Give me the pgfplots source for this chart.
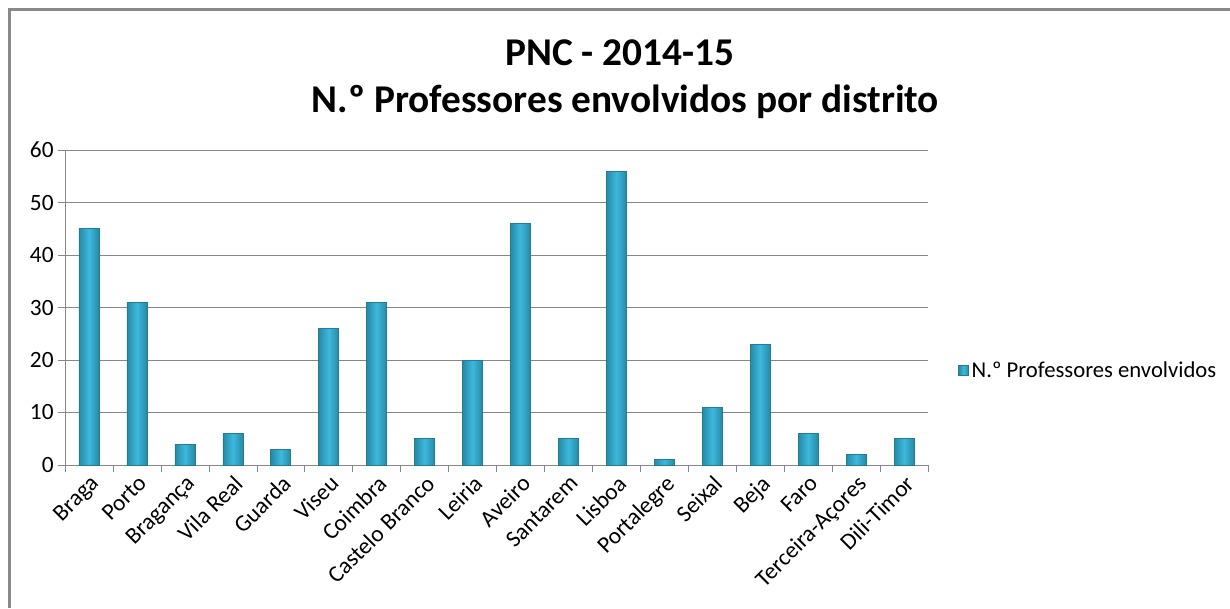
\documentclass[border=0pt]{standalone}
\usepackage{fontspec}
\setmainfont{Carlito}
\usepackage{pgfplots}
\pgfplotsset{compat=1.18}
\definecolor{barmid}{HTML}{3CB9DD}
\definecolor{baredge}{HTML}{2889A5}
\definecolor{gridc}{HTML}{878787}
\definecolor{framec}{HTML}{898989}
\tikzset{
  prism/.style={draw=baredge!90!black, thin, left color=baredge,
                right color=baredge, middle color=barmid},
}

\begin{document}
\begin{tikzpicture}
  % page is 1230x608 px at 0.75pt per px
  \useasboundingbox (0,0) rectangle (922.5pt,456pt);
  \draw[framec,line width=2.25pt] (6.75pt,0) -- (6.75pt,448.5pt) -- (922.5pt,448.5pt);

  \node[anchor=base,font=\fontsize{29.5}{34}\selectfont\bfseries] at (465pt,406.5pt) {PNC - 2014-15};
  \node[anchor=base,font=\fontsize{29.5}{34}\selectfont\bfseries] at (469pt,371.25pt) {N.º Professores envolvidos por distrito};

  \begin{axis}[
      at={(48.75pt,107.25pt)}, anchor=south west,
      scale only axis,
      width=647.25pt, height=236.25pt,
      ybar, bar width=15pt, bar shift=0pt,
      xmin=-0.5, xmax=17.5,
      ymin=0, ymax=60,
      ytick={0,10,...,60},
      xtick={0,...,17},
      xticklabels={Braga,Porto,Bragança,Vila Real,Guarda,Viseu,Coimbra,Castelo Branco,Leiria,Aveiro,Santarem,Lisboa,Portalegre,Seixal,Beja,Faro,Terceira-Açores,Dili-Timor},
      minor xtick={-0.5,0.5,...,17.5},
      major x tick style={draw=none},
      minor x tick style={gridc, thin},
      minor tick length=5.5pt,
      y tick style={gridc, thin},
      major tick length=5pt,
      tick align=outside,
      axis x line*=bottom, axis y line*=left,
      axis line style={gridc, thin, -},
      ymajorgrids, grid style={gridc, thin},
      xticklabel style={rotate=45, anchor=north east, inner sep=1pt, font=\fontsize{17.5}{20}\selectfont},
      yticklabel style={font=\fontsize{17.5}{20}\selectfont},
      /pgf/number format/assume math mode=true,
      legend style={at={(1.035,0.30)}, anchor=west, draw=none, fill=none,
                    font=\fontsize{17}{20}\selectfont, inner sep=0pt},
      legend image code/.code={\draw[prism] (0pt,-3.75pt) rectangle (7.5pt,3.75pt);},
    ]
    \addplot[prism] coordinates {(0,45)};
    \addlegendentry{N.º Professores envolvidos}
    \addplot[prism, forget plot] coordinates {(1,31)};
    \addplot[prism, forget plot] coordinates {(2,4)};
    \addplot[prism, forget plot] coordinates {(3,6)};
    \addplot[prism, forget plot] coordinates {(4,3)};
    \addplot[prism, forget plot] coordinates {(5,26)};
    \addplot[prism, forget plot] coordinates {(6,31)};
    \addplot[prism, forget plot] coordinates {(7,5)};
    \addplot[prism, forget plot] coordinates {(8,20)};
    \addplot[prism, forget plot] coordinates {(9,46)};
    \addplot[prism, forget plot] coordinates {(10,5)};
    \addplot[prism, forget plot] coordinates {(11,56)};
    \addplot[prism, forget plot] coordinates {(12,1)};
    \addplot[prism, forget plot] coordinates {(13,11)};
    \addplot[prism, forget plot] coordinates {(14,23)};
    \addplot[prism, forget plot] coordinates {(15,6)};
    \addplot[prism, forget plot] coordinates {(16,2)};
    \addplot[prism, forget plot] coordinates {(17,5)};
  \end{axis}
\end{tikzpicture}
\end{document}
